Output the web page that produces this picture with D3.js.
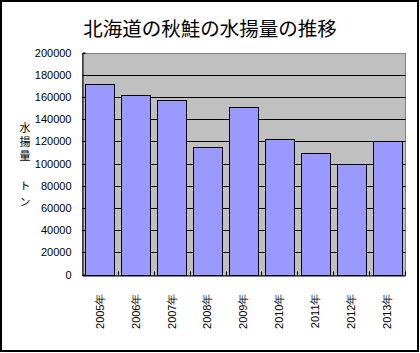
<!DOCTYPE html>
<html>
<head>
<meta charset="utf-8">
<script src="https://cdn.jsdelivr.net/npm/d3@7"></script>
<style>
  body { margin: 0; background: #fff; }
  svg { display: block; }
</style>
</head>
<body>
<div id="chart"></div>
<script>
const years = ['2005年', '2006年', '2007年', '2008年', '2009年', '2010年', '2011年', '2012年', '2013年'];
const catch_t = [172000, 162000, 157600, 115300, 151300, 122500, 109900, 99400, 120700];
const yTicks = [0, 20000, 40000, 60000, 80000, 100000, 120000, 140000, 160000, 180000, 200000];
const title = '北海道の秋鮭の水揚量の推移';
const yTitle = ['水揚量', 'トン'];

let width = 420;
let height = 353;
let plotLeft = 82, plotRight = 405, plotTop = 52.5, plotBottom = 274.5;

let svg = d3.select('#chart').append('svg')
    .attr('width', width)
    .attr('height', height);

// outer frame
svg.append('rect')
    .attr('x', 1).attr('y', 1)
    .attr('width', 417).attr('height', 350)
    .attr('fill', '#fff')
    .attr('stroke', '#000')
    .attr('stroke-width', 2);

svg.append('text')
    .attr('x', 210).attr('y', 27)
    .attr('text-anchor', 'middle')
    .attr('dominant-baseline', 'central')
    .style('font-family', '"Noto Sans CJK JP"')
    .style('font-size', '19.5px')
    .text(title);

let x = d3.scaleBand()
    .domain(years)
    .range([plotLeft, plotRight])
    .paddingInner(0.19)
    .paddingOuter(0.095);

let xCat = d3.scaleBand()
    .domain(years)
    .range([plotLeft, plotRight]);

let y = d3.scaleLinear()
    .domain([0, 200000])
    .range([plotBottom, plotTop]);

let px = v => Math.round(v) + 0.5;

// plot area
svg.append('rect')
    .attr('x', px(plotLeft)).attr('y', px(plotTop))
    .attr('width', Math.round(plotRight - plotLeft)).attr('height', Math.round(plotBottom - plotTop))
    .attr('fill', '#c0c0c0')
    .attr('stroke', '#808080')
    .attr('stroke-width', 1);

// gridlines
svg.append('g').selectAll('line').data(yTicks.filter(d => d > 0 && d < 200000)).enter().append('line')
    .attr('x1', px(plotLeft)).attr('x2', px(plotRight))
    .attr('y1', d => px(y(d))).attr('y2', d => px(y(d)))
    .attr('stroke', '#000')
    .attr('stroke-width', 1);

// bars
svg.append('g').selectAll('rect').data(catch_t).enter().append('rect')
    .attr('x', (d, i) => px(x(years[i])))
    .attr('y', d => px(y(d)))
    .attr('width', Math.round(x.bandwidth()))
    .attr('height', d => Math.round(y(0)) - Math.round(y(d)))
    .attr('fill', '#9999ff')
    .attr('stroke', '#000')
    .attr('stroke-width', 1);

// y axis
let yAxis = svg.append('g')
    .attr('transform', `translate(${px(plotLeft)},0)`)
    .call(d3.axisLeft(y).tickValues(yTicks).tickSize(-3).tickPadding(11).tickFormat(d3.format('d')));
yAxis.select('.domain').attr('stroke', '#000');
yAxis.selectAll('.tick line').attr('stroke', '#000');
yAxis.selectAll('.tick').attr('transform', d => `translate(0,${px(y(d))})`);
yAxis.selectAll('text')
    .style('font-family', '"Liberation Sans", Arial, sans-serif')
    .style('font-size', '11px')
    .attr('fill', '#000');

// x axis
let xAxis = svg.append('g')
    .attr('transform', `translate(0,${px(plotBottom)})`)
    .call(d3.axisBottom(xCat).tickSize(0).tickPadding(0));
xAxis.select('.domain').attr('stroke', '#000');
xAxis.selectAll('.tick text')
    .attr('transform', 'translate(0,18) rotate(-90)')
    .attr('text-anchor', 'end')
    .attr('dy', '0.35em')
    .attr('y', 0)
    .attr('x', 0)
    .style('font-family', '"Liberation Sans", Arial, sans-serif')
    .style('font-size', '11px')
    .attr('fill', '#000');

// category boundary ticks (inside)
svg.append('g').selectAll('line').data(years.slice(1).concat([null])).enter().append('line')
    .attr('x1', d => px(d ? xCat(d) : plotRight))
    .attr('x2', d => px(d ? xCat(d) : plotRight))
    .attr('y1', px(plotBottom))
    .attr('y2', px(plotBottom) - 4)
    .attr('stroke', '#000');

// y axis title, vertical writing
let yTitleStart = [122, 180.5];
let yTitleSpacing = ['3px', '5px'];
svg.append('g').selectAll('text').data(yTitle).enter().append('text')
    .attr('x', 25)
    .attr('y', (d, i) => yTitleStart[i])
    .style('writing-mode', 'vertical-rl')
    .style('text-orientation', 'upright')
    .style('letter-spacing', (d, i) => yTitleSpacing[i])
    .style('font-family', '"Noto Sans CJK JP"')
    .style('font-size', '11px')
    .text(d => d);
</script>
</body>
</html>
